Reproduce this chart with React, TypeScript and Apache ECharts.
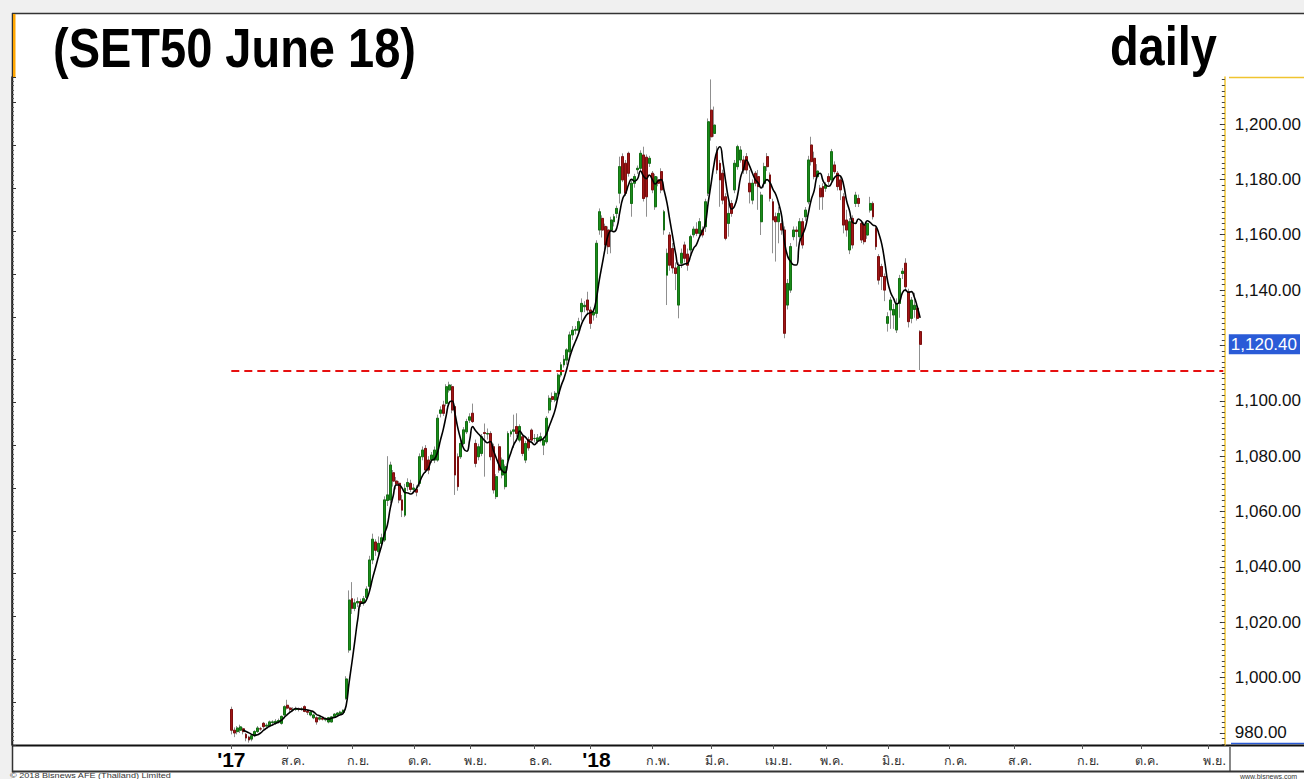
import React, { useEffect, useRef } from 'react';
import * as echarts from 'echarts';

// ---- DATA: daily candles [open, close, low, high], one array per month ----
const jul17 = [
  [988.5, 981, 979.5, 989.5], [981, 980, 978.5, 982], [980.5, 981.8, 979.5, 982.5], [981, 982.2, 980, 983],
  [981.5, 980.5, 979.5, 982], [979.5, 978.2, 977, 980], [978.5, 977.5, 976.5, 979], [977.8, 979, 977, 979.5],
  [979, 980.5, 978.5, 981], [980.5, 981.8, 980, 982.5], [981.5, 981.5, 980.8, 982.2], [983.5, 982.3, 981.5, 984],
  [982.5, 982.8, 981.8, 983.5], [982.5, 984, 982, 984.5], [983.8, 984, 983, 984.6], [983.5, 984.2, 983, 985],
  [984, 984.5, 983.5, 985.2], [983.5, 986, 983, 986.3], [986.5, 989.5, 986, 990],
];
const aug17 = [
  [990, 989, 988.5, 992], [989, 988.5, 987.5, 989.5], [988.5, 988.5, 987.8, 989.3], [988.5, 988.8, 988, 989.5],
  [988.7, 988.5, 987.8, 989.2], [988.5, 988.7, 988, 989.3], [989.5, 987.8, 987.5, 990], [987.8, 987.5, 986.5, 988.3],
  [986.5, 987.5, 986, 988], [985.5, 986.5, 985, 987], [985.5, 984, 983, 986], [985, 985.5, 984.5, 986],
  [985.3, 985, 984.5, 985.8], [984.8, 985, 984.2, 985.5], [984, 985.5, 983.5, 985.8], [984, 985.8, 983.8, 986],
  [986, 986.8, 985.5, 987.2], [986.5, 987.2, 986, 987.5], [987, 987.5, 986.5, 988], [987.5, 988.2, 987, 988.5],
  [992.5, 999.5, 992, 1000.5], [1010, 1028, 1009, 1031.5],
];
const sep17 = [
  [1028.5, 1025, 1023, 1034.5], [1025, 1027, 1024, 1028.5], [1027, 1027.5, 1025.5, 1029], [1027.5, 1026.8, 1025.5, 1028.5],
  [1027, 1028.5, 1026, 1029.5], [1029, 1032, 1028, 1033], [1033, 1042.5, 1032, 1044], [1042.5, 1050, 1041, 1052],
  [1049, 1046, 1044, 1050], [1045.5, 1048.5, 1044.5, 1051], [1048.5, 1050.5, 1047, 1052], [1049.7, 1064.2, 1049, 1065.5],
  [1064, 1066, 1062, 1080], [1064.2, 1076.8, 1063, 1078], [1074, 1071, 1069, 1075], [1071, 1070, 1068, 1072.5],
  [1070.2, 1064.2, 1063, 1071], [1064.2, 1060.5, 1058, 1066], [1058.7, 1068.4, 1058, 1070], [1069, 1070.5, 1067.5, 1072],
  [1070.2, 1068, 1067, 1071.5],
];
const oct17 = [
  [1068, 1068.5, 1066.5, 1070], [1068, 1067, 1065.5, 1069.5], [1070.2, 1079.8, 1069, 1081], [1079.8, 1082.2, 1078.5, 1083.5],
  [1082.8, 1075, 1074, 1084], [1078.6, 1075, 1073.5, 1080], [1078.6, 1080.4, 1077.5, 1081.5], [1078.6, 1082.2, 1077.5, 1083.5],
  [1078.6, 1093.7, 1078, 1095], [1095.5, 1096.7, 1094, 1098], [1098.5, 1095.5, 1094.5, 1100], [1099.1, 1105.1, 1098, 1106],
  [1103.9, 1105.7, 1103, 1106.9], [1105.1, 1096.7, 1095.5, 1106], [1097.9, 1073.2, 1066, 1098.5], [1079.8, 1069, 1067.5, 1081],
  [1079.8, 1084.6, 1079, 1086], [1084.6, 1089.5, 1084, 1090.5], [1088.8, 1092.5, 1088, 1093.5],
];
const nov17 = [
  [1093, 1094.2, 1092, 1095.5], [1095.5, 1092.5, 1092, 1099], [1084.6, 1077.4, 1076, 1086], [1079.8, 1083.4, 1078.5, 1084.5],
  [1081, 1087, 1080, 1088], [1088.5, 1088.2, 1072.6, 1091.8], [1088, 1088.2, 1086, 1090], [1088.2, 1079.8, 1078.5, 1089],
  [1083.4, 1067.8, 1066.5, 1084.5], [1065.4, 1072.6, 1064.5, 1073.5], [1083.4, 1075, 1074, 1084.5], [1073.2, 1078.6, 1072, 1079.5],
  [1069, 1076.2, 1068, 1077], [1078.6, 1088.2, 1077.5, 1089], [1088, 1088.8, 1087, 1089.5], [1089, 1089.5, 1083, 1095],
  [1090.7, 1088.2, 1087, 1095.5], [1085.8, 1090.7, 1085, 1091.5], [1087, 1081, 1080, 1088], [1078.6, 1084.6, 1077.5, 1085.5],
  [1086, 1083, 1082, 1087], [1089.4, 1085.8, 1085, 1090],
];
const dec17 = [
  [1086.4, 1086.4, 1085, 1088], [1085.5, 1086.6, 1084.5, 1088], [1086, 1087, 1085, 1088.5], [1084, 1085.8, 1080.4, 1087],
  [1085.2, 1093.7, 1084.5, 1094.5], [1096.7, 1100.9, 1095.5, 1102], [1101.5, 1100.5, 1099.5, 1103], [1100.3, 1102.7, 1099.5, 1103.5],
  [1102.7, 1109.3, 1102, 1110], [1109.3, 1113, 1108.5, 1114], [1113, 1115, 1112, 1116.5], [1114.7, 1118.4, 1113, 1119],
  [1117.7, 1123.8, 1116, 1125], [1123.8, 1125.5, 1122, 1127], [1125.5, 1125.8, 1124, 1127], [1125.5, 1128.6, 1124, 1130],
  [1132.2, 1135.2, 1129, 1137], [1134, 1134.5, 1132, 1136], [1136.4, 1132.8, 1131, 1139.4],
];
const jan18 = [
  [1132.8, 1128, 1126, 1134], [1131, 1132, 1129, 1133], [1131.6, 1156.9, 1130, 1158], [1161.7, 1168.3, 1160, 1169.5],
  [1165.9, 1161.7, 1159, 1167], [1163, 1156.3, 1153.3, 1164], [1161.7, 1155.7, 1153, 1163], [1161.7, 1165.3, 1153.3, 1166.5],
  [1164.7, 1166.5, 1163, 1167.5], [1167.7, 1169.5, 1166, 1170.5], [1175, 1184.6, 1171.3, 1188.2], [1188.2, 1179.8, 1179, 1189.4],
  [1185.8, 1175, 1174, 1187], [1189.4, 1182.2, 1181, 1190], [1171.3, 1178.6, 1166.5, 1180], [1178.6, 1181, 1177, 1182],
  [1183.5, 1184, 1182, 1185], [1184, 1189.4, 1183, 1190.5], [1188.8, 1173.1, 1172, 1191.8], [1188, 1173.7, 1166.5, 1189],
  [1185.8, 1187.6, 1184.5, 1188.5],
];
const feb18 = [
  [1182.2, 1176.2, 1175, 1183], [1170.1, 1181, 1169, 1182], [1179.8, 1178.6, 1177.5, 1181], [1182.8, 1176.2, 1175, 1184],
  [1161.7, 1168.3, 1160, 1169], [1145.4, 1153.3, 1134.6, 1155], [1159.9, 1149, 1147, 1161], [1155, 1148, 1146, 1157],
  [1148, 1146, 1140, 1150], [1134.6, 1148.5, 1129.8, 1150], [1149.7, 1153.3, 1148, 1155], [1156.3, 1151.5, 1150, 1157.5],
  [1153, 1149, 1147, 1155], [1154.5, 1159.3, 1153, 1160], [1160, 1162, 1159, 1163], [1162, 1160.5, 1159.5, 1164.5],
  [1160.5, 1164.7, 1159.5, 1166], [1161.7, 1159.9, 1159, 1163], [1162.9, 1171.9, 1161, 1173], [1175, 1200.8, 1174, 1202],
];
const mar18 = [
  [1205, 1195.4, 1194, 1216.1], [1196.6, 1199.6, 1195.4, 1206.3], [1190, 1183.4, 1182, 1192], [1185.8, 1179.8, 1170.1, 1187],
  [1182.2, 1172.5, 1171, 1183.5], [1173.7, 1158.7, 1158, 1175], [1164.1, 1167.7, 1159.3, 1171.3], [1171.3, 1167.7, 1166.5, 1172.5],
  [1176.2, 1185.8, 1175, 1187], [1184.6, 1191.8, 1183.5, 1192.5], [1187, 1190.6, 1186, 1192], [1187, 1183.4, 1182, 1188.5],
  [1188.2, 1183.4, 1182, 1189.5], [1178.6, 1175.5, 1171.3, 1183.4], [1172.5, 1178.6, 1171, 1180], [1182.2, 1178.6, 1177.5, 1183],
  [1181, 1177.4, 1169, 1183.4], [1164.7, 1174.3, 1159.9, 1175.5], [1178.6, 1184.6, 1177, 1186], [1188.2, 1184.6, 1183, 1189.5],
  [1181.6, 1173.1, 1172, 1182.5],
];
const apr18 = [
  [1171.9, 1165.3, 1153.3, 1173], [1166.5, 1164.7, 1150.3, 1168], [1164.7, 1167.7, 1156.9, 1170.1], [1164, 1161.7, 1160, 1165.5],
  [1161.7, 1124.4, 1122.6, 1163], [1134.6, 1142.4, 1133, 1144], [1140, 1155.7, 1139, 1157], [1159.3, 1161.7, 1158, 1163],
  [1161.7, 1161.2, 1155.7, 1163], [1159.3, 1164.7, 1158, 1166], [1164.7, 1156.3, 1155, 1166], [1166.5, 1168.9, 1165, 1170],
  [1171.9, 1187, 1171, 1188.5], [1192.4, 1186.4, 1185, 1195.4], [1187.6, 1181, 1180, 1190], [1181, 1183, 1180, 1185.5],
  [1176.8, 1173.7, 1169, 1178], [1177.4, 1173.7, 1169, 1178.6],
];
const may18 = [
  [1176.8, 1178, 1175.5, 1179], [1181, 1179.2, 1178, 1182.2], [1179.8, 1190, 1179, 1191], [1185.2, 1182.8, 1182, 1186.5],
  [1182.2, 1177.4, 1176, 1183], [1179.8, 1176.2, 1172.5, 1181], [1173.7, 1163.5, 1160.5, 1175], [1165.3, 1161.7, 1159.3, 1169],
  [1154.5, 1164.7, 1153, 1166], [1165.9, 1156.3, 1155, 1167], [1171.3, 1174.3, 1170, 1175.5], [1173.1, 1171.3, 1170, 1174.5],
  [1164.1, 1158.1, 1157, 1165], [1163.5, 1157.5, 1156.5, 1164.5], [1159.9, 1164.1, 1158.5, 1165], [1168.9, 1171.3, 1168, 1173.7],
  [1171.3, 1166.5, 1165.5, 1172], [1162.3, 1155.7, 1154.5, 1163], [1152.1, 1143.6, 1142, 1153], [1148.5, 1144.9, 1140, 1149.5],
  [1144.9, 1140, 1136, 1146],
];
const jun18 = [
  [1128, 1130.4, 1125, 1132], [1132.8, 1136.4, 1126, 1137.5], [1131, 1133, 1126, 1135], [1125.6, 1135.2, 1124.5, 1137],
  [1135.2, 1144.2, 1130, 1145.5], [1146, 1146.8, 1144, 1148], [1149.7, 1141.2, 1139.5, 1151.5], [1139.4, 1128.6, 1126.5, 1140.5],
  [1129.8, 1136.4, 1128, 1137.5], [1133, 1134.5, 1130, 1139], [1133.4, 1129.8, 1129, 1135], [1125, 1120.4, 1111.1, 1125.5],
];

const holidays = [
  '2017-07-10', '2017-07-28', '2017-08-14', '2017-10-13', '2017-10-23', '2017-10-26', '2017-12-05', '2017-12-11',
  '2018-01-01', '2018-01-02', '2018-03-01', '2018-04-06', '2018-04-13', '2018-04-16', '2018-05-01', '2018-05-29',
];
const thaiMonths = ['ม.ค.', 'ก.พ.', 'มี.ค.', 'เม.ย.', 'พ.ค.', 'มิ.ย.', 'ก.ค.', 'ส.ค.', 'ก.ย.', 'ต.ค.', 'พ.ย.', 'ธ.ค.'];
// 1,120.00 is hidden behind the last-price box in the reference
const yLabelValues = [980, 1000, 1020, 1040, 1060, 1080, 1100, 1140, 1160, 1180, 1200];
const yMajorTicks = [980, 1000, 1020, 1040, 1060, 1080, 1100, 1120, 1140, 1160, 1180, 1200];
const supportLevel = 1111;
const maPeriod = 5;
const titleText = '(SET50 June 18)';
const periodText = 'daily';

const LEAD = 74; // empty slots before the first candle
const Y_MIN = 975.66;
const Y_MAX = 1216.98;

function buildCategories() {
  const cats: string[] = [];
  for (let i = 0; i < LEAD; i++) cats.push('blank' + i);
  const dataEnd = Date.UTC(2018, 5, 18);
  const axisEnd = Date.UTC(2018, 10, 8);
  for (let t = Date.UTC(2017, 6, 3); t <= axisEnd; t += 86400000) {
    const d = new Date(t);
    const wd = d.getUTCDay();
    const s = d.toISOString().slice(0, 10);
    if (wd === 0 || wd === 6) continue;
    if (t <= dataEnd && holidays.includes(s)) continue;
    cats.push(s);
  }
  return cats;
}

export default function App() {
  const ref = useRef<HTMLDivElement>(null);
  useEffect(() => {
    if (!ref.current) return;
    const chart = echarts.init(ref.current, undefined, { renderer: 'svg' });
    const cats = buildCategories();
    const labelMap: Record<number, string> = {};
    let prevMonth = '';
    let first = true;
    cats.forEach((c, i) => {
      if (c.startsWith('blank')) return;
      const ym = c.slice(0, 7);
      if (ym !== prevMonth) {
        const m = parseInt(c.slice(5, 7), 10) - 1;
        const yy = c.slice(2, 4);
        if (first) labelMap[i] = "{y0|'" + yy + '}';
        else if (m === 0) labelMap[i] = "{y|'" + yy + '}';
        else labelMap[i] = '{m|' + thaiMonths[m] + '}';
        first = false;
        prevMonth = ym;
      }
    });
    const candles = [...jul17, ...aug17, ...sep17, ...oct17, ...nov17, ...dec17, ...jan18, ...feb18, ...mar18, ...apr18, ...may18, ...jun18];
    const full = candles.map((c, k) => [LEAD + k, c[0], c[1], c[2], c[3]]);
    const bodies = candles.map((c, k) => [LEAD + k, c[0], c[1], Math.min(c[0], c[1]), Math.max(c[0], c[1])]);
    const ma: number[][] = [];
    for (let k = maPeriod - 1; k < candles.length; k++) {
      let s = 0;
      for (let j = 0; j < maPeriod; j++) s += candles[k - j][1];
      ma.push([LEAD + k, s / maPeriod]);
    }
    const lastClose = candles[candles.length - 1][1];
    const minorTicks: number[] = [];
    for (let v = 976; v <= 1216; v += 2) minorTicks.push(v);
    const fmt = (v: number) => v.toLocaleString('en-US', { minimumFractionDigits: 2, maximumFractionDigits: 2 });
    const showIdx = (i: number) => labelMap[i] !== undefined;
    const sans = '"Liberation Sans", Arial, sans-serif';

    chart.setOption({
      animation: false,
      backgroundColor: '#ffffff',
      grid: { left: 12, right: 75, top: 77, bottom: 34 },
      xAxis: {
        type: 'category',
        data: cats,
        boundaryGap: true,
        axisLine: { show: false },
        axisTick: { show: true, interval: (i: number) => showIdx(i), alignWithLabel: true, length: 4, lineStyle: { color: '#555' } },
        axisLabel: {
          interval: (i: number) => showIdx(i),
          formatter: (_v: string, i: number) => labelMap[i] || '',
          margin: 4,
          rich: {
            y0: { fontSize: 21, fontWeight: 'bold', color: '#000', fontFamily: sans },
            y: { fontSize: 21, fontWeight: 'bold', color: '#000', fontFamily: sans, padding: [0, 0, 0, 12] },
            m: { fontSize: 12.5, color: '#333', fontFamily: 'Tahoma, "DejaVu Sans", sans-serif', padding: [5, 0, 0, 12] },
          },
        },
        splitLine: { show: false },
      },
      yAxis: [
        {
          type: 'value', position: 'right', min: Y_MIN, max: Y_MAX,
          axisLine: { show: true, lineStyle: { color: '#f0c430', width: 1.5 } },
          axisTick: { show: true, inside: true, length: 5, customValues: yMajorTicks, lineStyle: { color: '#333' } },
          axisLabel: { customValues: yLabelValues, formatter: fmt, color: '#111', fontSize: 17, margin: 10, fontFamily: sans },
          splitLine: { show: false },
        },
        {
          type: 'value', position: 'right', min: Y_MIN, max: Y_MAX,
          axisLine: { show: false },
          axisTick: { show: true, inside: true, length: 3, customValues: minorTicks, lineStyle: { color: '#444' } },
          axisLabel: { show: false },
          splitLine: { show: false },
        },
        {
          type: 'value', position: 'left', min: 0, max: 156, interval: 10,
          axisLine: { show: true, lineStyle: { color: '#222', width: 1.5 } },
          axisTick: { show: true, inside: true, length: 4, lineStyle: { color: '#333' } },
          minorTick: { show: true, splitNumber: 10, length: 2, lineStyle: { color: '#555' } },
          axisLabel: { show: false },
          splitLine: { show: false },
        },
      ],
      series: [
        {
          type: 'candlestick', name: 'range', yAxisIndex: 0, data: full, encode: { x: 0, y: [1, 2, 3, 4] },
          barWidth: 2.4,
          itemStyle: { color: 'transparent', color0: 'transparent', borderColor: '#8f8f8f', borderColor0: '#8f8f8f', borderWidth: 1 },
        },
        {
          type: 'candlestick', name: 'SET50', yAxisIndex: 0, data: bodies, encode: { x: 0, y: [1, 2, 3, 4] },
          barWidth: 2.4,
          itemStyle: { color: '#1a8c1a', color0: '#a01616', borderColor: '#137013', borderColor0: '#7d0e0e', borderWidth: 1 },
          markLine: {
            silent: true, symbol: ['none', 'none'],
            data: [
              [
                { coord: [LEAD, supportLevel], lineStyle: { color: '#e61010', width: 2.2, type: [8, 5] }, label: { show: false } },
                { coord: [cats.length - 1, supportLevel] },
              ],
              {
                yAxis: lastClose,
                lineStyle: { color: 'transparent', width: 0 },
                label: {
                  show: true, position: 'end', distance: 4, formatter: fmt(lastClose),
                  color: '#fff', backgroundColor: '#2a5bd7', fontSize: 17, padding: [2, 3, 1, 2],
                  fontFamily: sans,
                },
              },
            ],
          },
        },
        {
          type: 'line', name: 'MA', yAxisIndex: 0, data: ma, smooth: true, showSymbol: false,
          lineStyle: { color: '#000', width: 1.6 },
        },
      ],
      graphic: [
        { type: 'rect', shape: { x: 0, y: 0, width: 1304, height: 13 }, style: { fill: '#f0f0f0' }, silent: true },
        { type: 'rect', shape: { x: 0, y: 0, width: 12, height: 779 }, style: { fill: '#f0f0f0' }, silent: true },
        { type: 'line', shape: { x1: 12, y1: 13.5, x2: 1304, y2: 13.5 }, style: { stroke: '#333', lineWidth: 1.5 } },
        { type: 'line', shape: { x1: 12.5, y1: 13, x2: 12.5, y2: 772 }, style: { stroke: '#333', lineWidth: 1.5 } },
        { type: 'rect', shape: { x: 13, y: 14, width: 2.5, height: 63 }, style: { fill: '#ffa500' } },
        { type: 'line', shape: { x1: 1229, y1: 77.5, x2: 1304, y2: 77.5 }, style: { stroke: '#f0c430', lineWidth: 1.5 } },
        { type: 'line', shape: { x1: 1231, y1: 743.5, x2: 1304, y2: 743.5 }, style: { stroke: '#2a5bd7', lineWidth: 1.5 } },
        { type: 'line', shape: { x1: 12, y1: 745.5, x2: 1304, y2: 745.5 }, style: { stroke: '#111', lineWidth: 2 } },
        { type: 'line', shape: { x1: 1230, y1: 746, x2: 1230, y2: 771 }, style: { stroke: '#888', lineWidth: 2 } },
        { type: 'line', shape: { x1: 12, y1: 771.5, x2: 1304, y2: 771.5 }, style: { stroke: '#333', lineWidth: 2 } },
        {
          type: 'text', x: 53, y: 20, scaleY: 1.19,
          style: { text: titleText, font: 'bold 47px "Liberation Sans", Arial, sans-serif', fill: '#000', align: 'left', verticalAlign: 'top' },
        },
        {
          type: 'text', x: 1217, y: 18, scaleY: 1.19,
          style: { text: periodText, font: 'bold 47px "Liberation Sans", Arial, sans-serif', fill: '#000', align: 'right', verticalAlign: 'top' },
        },
        {
          type: 'text', x: 10, y: 772.5, scaleX: 1.3,
          style: { text: '© 2018 Bisnews AFE (Thailand) Limited', font: '7px "Liberation Sans", Arial, sans-serif', fill: '#333', align: 'left', verticalAlign: 'top' },
        },
        {
          type: 'text', x: 1240, y: 772.5,
          style: { text: 'www.bisnews.com', font: '7px "Liberation Sans", Arial, sans-serif', fill: '#333', align: 'left', verticalAlign: 'top' },
        },
      ],
    });
    return () => chart.dispose();
  }, []);
  return <div ref={ref} style={{ position: 'absolute', left: 0, top: 0, width: 1304, height: 779 }} />;
}
